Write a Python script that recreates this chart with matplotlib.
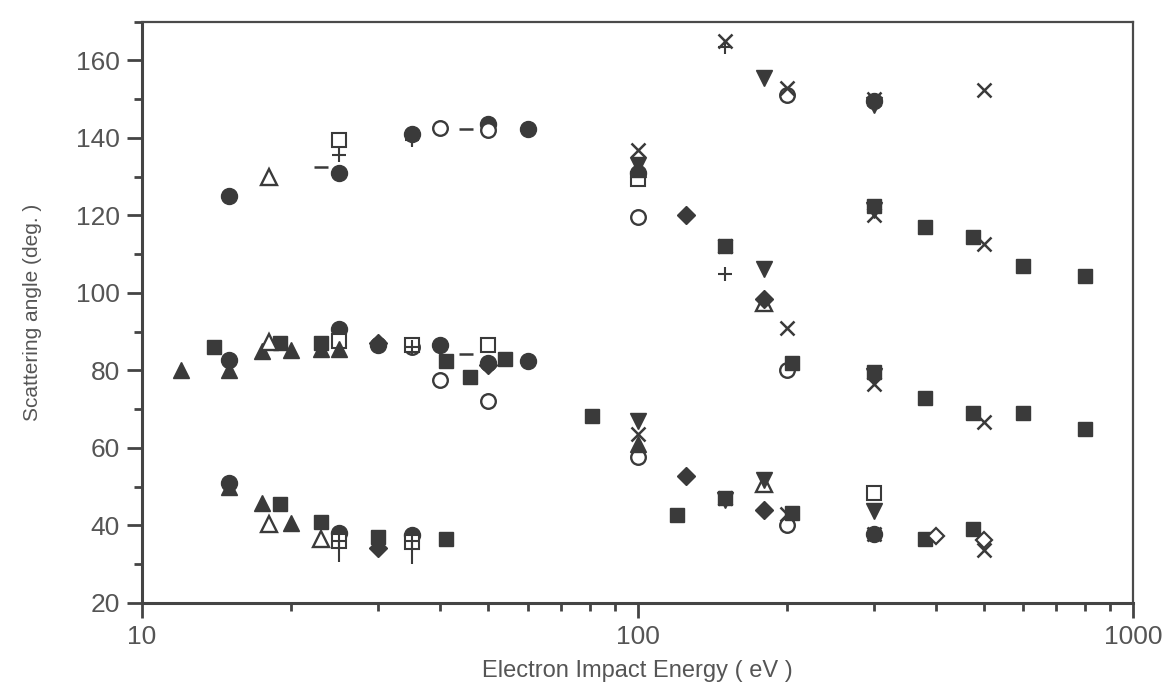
import matplotlib
matplotlib.use("Agg")
import matplotlib.pyplot as plt
from matplotlib.ticker import FixedLocator, NullFormatter

plt.rcParams['font.family'] = ['Liberation Sans', 'DejaVu Sans']

INK = "#3a3a3a"
TXT = "#555555"

# energies (eV) and scattering angles (deg.)
filled_circle_E = [15, 25, 35, 50, 60, 15, 25, 30, 40, 50, 60, 15, 25, 35, 100, 300, 300]
filled_circle_A = [125, 131, 141, 143.5, 142.3, 82.8, 90.8, 86.5, 86.6, 82, 82.4, 51, 38, 37.5, 131, 149.5, 37.8]

open_circle_E = [40, 50, 35, 40, 50, 100, 100, 200, 200, 200]
open_circle_A = [142.5, 142, 86, 77.5, 72, 57.7, 119.7, 151, 80, 40]

filled_square_E = [14, 19, 23, 41, 46, 54, 19, 23, 30, 41, 81, 120, 150, 205, 205, 150,
                   300, 380, 475, 600, 800, 300, 380, 475, 600, 800, 380, 475]
filled_square_A = [86, 87, 87, 82.5, 78.3, 83, 45.5, 41, 37, 36.4, 68.3, 42.7, 47, 43.3, 82, 112,
                   122.5, 117, 114.4, 107, 104.3, 79.5, 73, 69, 69, 64.8, 36.5, 39]

open_square_E = [25, 25, 35, 50, 25, 35, 100, 300]
open_square_A = [139.5, 87.6, 86.5, 86.6, 36, 35.8, 129.5, 48.3]

filled_tri_E = [12, 15, 17.5, 20, 23, 25, 15, 17.5, 20, 100, 100]
filled_tri_A = [80, 80, 85, 85.4, 85.5, 85.5, 50, 45.8, 40.7, 61, 132]

open_tri_E = [18, 18, 18, 23, 180, 180]
open_tri_A = [130, 87.3, 40.5, 36.5, 97.3, 50.8]

down_tri_E = [100, 100, 180, 180, 300, 300, 300, 300, 180, 150]
down_tri_A = [67, 133, 155.5, 106.3, 148.5, 121.5, 78.5, 43.7, 51.8, 46.5]

filled_diam_E = [30, 50, 30, 125, 125, 180, 180]
filled_diam_A = [87, 81.5, 34.3, 120, 52.8, 98.5, 44]

open_diam_E = [400, 500]
open_diam_A = [37.3, 36.2]

cross_E = [100, 150, 200, 300, 500, 150, 200, 300, 500, 100, 150, 200, 300, 500, 300, 500]
cross_A = [136.8, 165, 152.8, 150, 152.3, 112, 91, 120, 112.7, 63.5, 47, 43, 76.5, 66.7, 37.8, 33.7]

plus_E = [25, 35, 25, 35, 150, 150, 35, 300]
plus_A = [135.5, 139.5, 36, 36, 163.5, 105, 86, 37.8]
plus_low = [0, 1.5, 5.5, 6, 0, 0, 0, 0]

dash_E = [23, 45, 45]
dash_A = [132.6, 142.3, 84.3]

fig = plt.figure(figsize=(11.68, 6.91), dpi=100)
ax = fig.add_axes([0.1216, 0.1274, 0.8485, 0.8412])

ax.plot(filled_circle_E, filled_circle_A, 'o', ms=11.5, color=INK, mec=INK, ls='none')
ax.plot(open_circle_E, open_circle_A, 'o', ms=10.5, mfc='white', mec=INK, mew=1.7, ls='none')
ax.plot(filled_square_E, filled_square_A, 's', ms=10, color=INK, ls='none')
ax.plot(open_square_E, open_square_A, 's', ms=9.5, mfc='white', mec=INK, mew=1.5, ls='none')
ax.plot(filled_tri_E, filled_tri_A, '^', ms=11.5, color=INK, ls='none')
ax.plot(open_tri_E, open_tri_A, '^', ms=11, mfc='white', mec=INK, mew=1.7, ls='none')
ax.plot(down_tri_E, down_tri_A, 'v', ms=11.5, color=INK, ls='none')
ax.plot(filled_diam_E, filled_diam_A, 'D', ms=9, color=INK, ls='none')
ax.plot(open_diam_E, open_diam_A, 'D', ms=8.5, mfc='white', mec=INK, mew=1.6, ls='none')
ax.plot(cross_E, cross_A, 'x', ms=10.5, mec=INK, mew=1.8, ls='none')
ax.errorbar(plus_E, plus_A, yerr=[plus_low, [0] * len(plus_low)], fmt='+', ms=10.5,
            mec=INK, mew=1.5, ecolor=INK, elinewidth=1.5, capsize=0)
ax.plot(dash_E, dash_A, '_', ms=10, mec=INK, mew=1.8, ls='none')

ax.set_xscale('log')
ax.set_xlim(10, 1000)
ax.set_ylim(20, 170)

ax.yaxis.set_major_locator(FixedLocator(range(20, 161, 20)))
ax.yaxis.set_minor_locator(FixedLocator(range(30, 171, 20)))
ax.xaxis.set_major_locator(FixedLocator([10, 100, 1000]))
ax.xaxis.set_minor_locator(FixedLocator([m * d for d in (10, 100) for m in range(2, 10)]))
ax.xaxis.set_minor_formatter(NullFormatter())
ax.set_xticklabels(['10', '100', '1000'])

for side in ('left', 'bottom'):
    ax.spines[side].set_linewidth(2.2)
    ax.spines[side].set_color('#444444')
for side in ('top', 'right'):
    ax.spines[side].set_linewidth(1.6)
    ax.spines[side].set_color('#4a4a4a')

ax.tick_params(which='major', direction='out', length=11, width=2, color='#444444',
               labelsize=19, labelcolor=TXT, pad=5)
ax.tick_params(which='minor', direction='out', length=6, width=2, color='#444444')

ax.set_xlabel('Electron Impact Energy ( eV )', fontsize=17, color=TXT, labelpad=8)
ax.set_ylabel('Scattering angle (deg. )', fontsize=15, color=TXT, labelpad=24)

fig.savefig('out.png', dpi=100)
